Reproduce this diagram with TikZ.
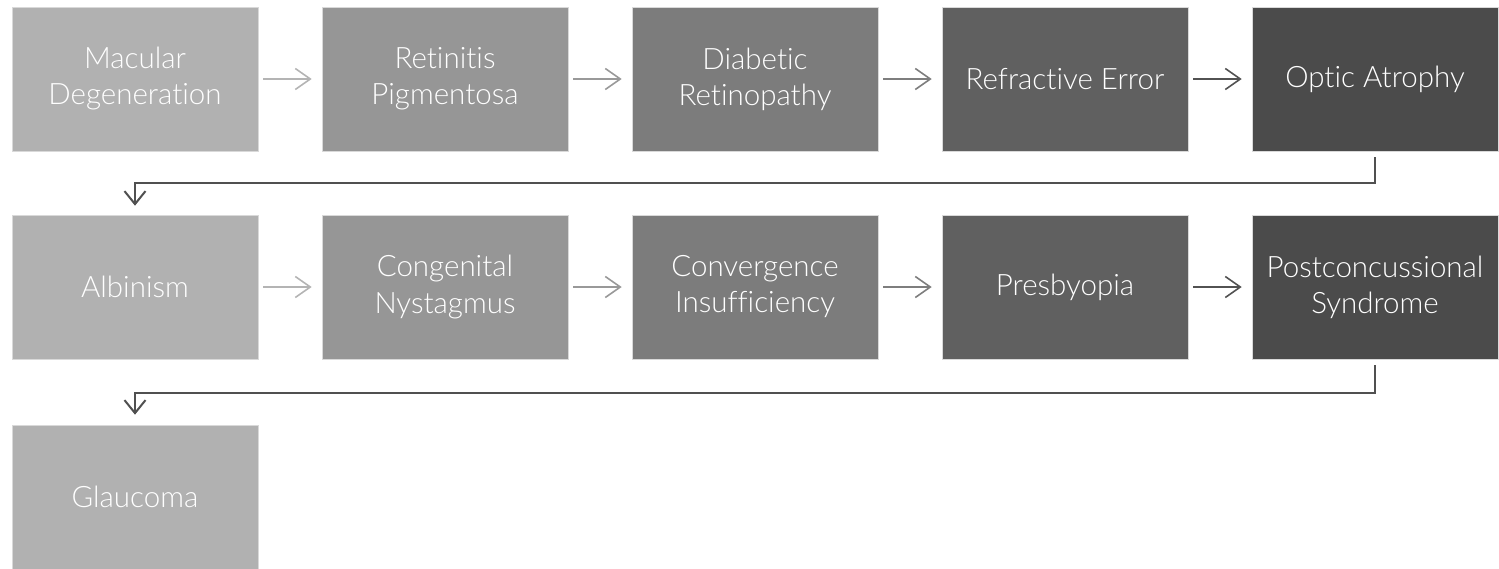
\documentclass[tikz,border=0pt]{standalone}
\usepackage{fontspec}
\setmainfont{Lato Light}[Ligatures=NoCommon]
\usetikzlibrary{arrows.meta}
\definecolor{c1}{HTML}{B1B1B1}
\definecolor{c2}{HTML}{969696}
\definecolor{c3}{HTML}{7C7C7C}
\definecolor{c4}{HTML}{606060}
\definecolor{c5}{HTML}{4B4B4B}
\definecolor{a1}{HTML}{B4B4B4}
\definecolor{a2}{HTML}{999999}
\definecolor{a3}{HTML}{7E7E7E}
\definecolor{a4}{HTML}{525252}
\definecolor{lk}{HTML}{505050}
\tikzset{
  box/.style={rectangle, minimum width=246pt, minimum height=144pt, inner sep=0pt,
    text=white, align=center, font=\fontsize{29.5pt}{36pt}\selectfont, draw=white!85!black, line width=0.6pt},
  harrow/.style={line width=1.6pt, -{Straight Barb[length=15pt,width=21pt,line width=1.6pt]}, shorten <=5pt, shorten >=10pt},
  link/.style={line width=2pt, draw=lk, -{Straight Barb[length=13pt,width=21pt,line width=2pt]}}
}
\begin{document}
\begin{tikzpicture}[x=1pt,y=-1pt]
\useasboundingbox (0,0) rectangle (1499,568);
\node[box, fill=c1] (n1) at (135,79) {Macular\\Degeneration};
\node[box, fill=c2] (n2) at (445,79) {Retinitis\\Pigmentosa};
\node[box, fill=c3] (n3) at (755,79) {Diabetic\\Retinopathy};
\node[box, fill=c4] (n4) at (1065,79) {Refractive Error};
\node[box, fill=c5] (n5) at (1375,79) {Optic Atrophy};
\node[box, fill=c1] (m1) at (135,287) {Albinism};
\node[box, fill=c2] (m2) at (445,287) {Congenital\\Nystagmus};
\node[box, fill=c3] (m3) at (755,287) {Convergence\\Insufficiency};
\node[box, fill=c4] (m4) at (1065,287) {Presbyopia};
\node[box, fill=c5] (m5) at (1375,287) {Postconcussional\\Syndrome};
\node[box, fill=c1] (g1) at (135,497) {Glaucoma};
\draw[harrow, a1] (n1) -- (n2);
\draw[harrow, a2] (n2) -- (n3);
\draw[harrow, a3] (n3) -- (n4);
\draw[harrow, a4] (n4) -- (n5);
\draw[harrow, a1] (m1) -- (m2);
\draw[harrow, a2] (m2) -- (m3);
\draw[harrow, a3] (m3) -- (m4);
\draw[harrow, a4] (m4) -- (m5);
\draw[link, shorten <=6pt, shorten >=9pt] (n5.south) -- ++(0,32) -| (m1.north);
\draw[link, shorten <=6pt, shorten >=10pt] (m5.south) -- ++(0,34) -| (g1.north);
\end{tikzpicture}
\end{document}
